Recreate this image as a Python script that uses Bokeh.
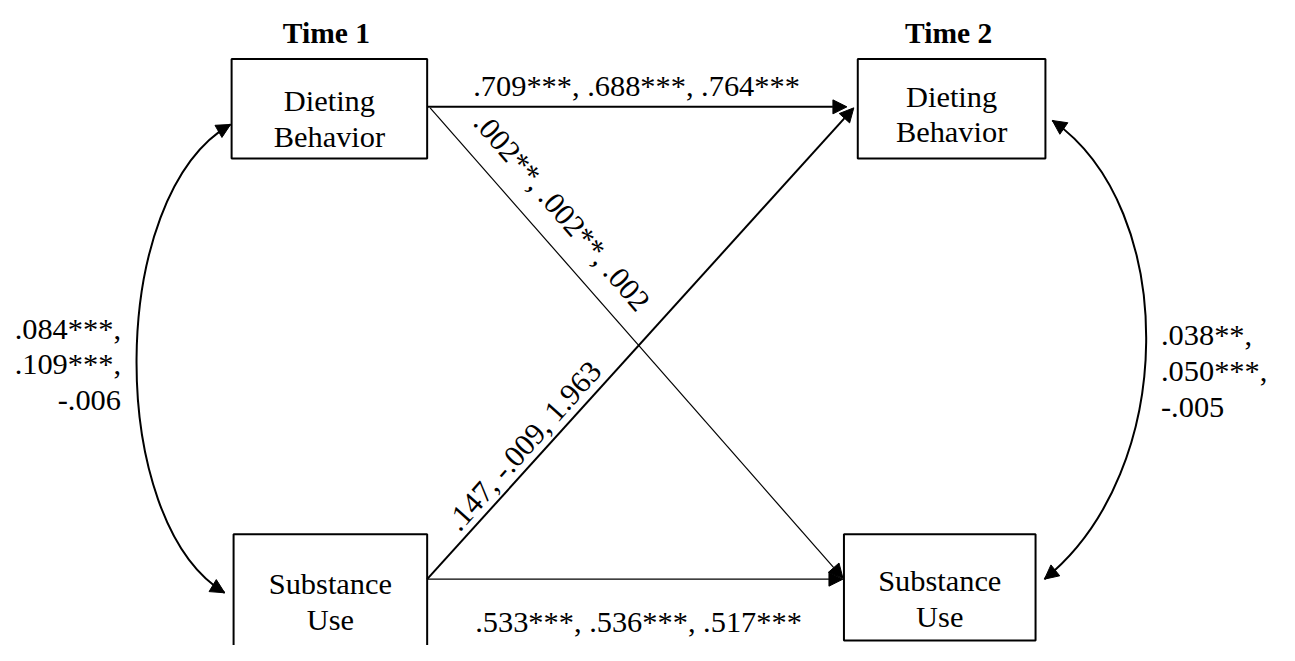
import numpy as np
from bokeh.plotting import figure
from bokeh.models import Range1d, Arrow, NormalHead
from bokeh.core.properties import value
from bokeh.embed import file_html
from bokeh.resources import INLINE

# ---------------- data ----------------
time_labels = ["Time 1", "Time 2"]
construct_lines = [["Dieting", "Behavior"], ["Substance", "Use"]]
stab_dieting = [".709***", ".688***", ".764***"]
stab_substance = [".533***", ".536***", ".517***"]
cross_d_to_s = [".002**", ".002**", ".002"]
cross_s_to_d = [".147", "-.009", "1.963"]
cov_t1 = [".084***", ".109***", "-.006"]
cov_t2 = [".038**", ".050***", "-.005"]

# ---------------- layout (page pixel coordinates of a 1295x661 page) ----------------
FONT = value("Liberation Serif")
FS = value("30.4px")
FS_TITLE = value("29.5px")

boxes = {  # left, right, top, bottom
    "D1": (234, 432, 60, 162),
    "D2": (868, 1058, 60, 162),
    "S1": (236, 432, 547, 720),
    "S2": (854, 1048, 547, 656),
}
box_text = {  # centre x, baseline of line 1, baseline of line 2, construct index
    "D1": (333, 103, 140, 0),
    "D2": (963, 99, 135, 0),
    "S1": (334, 598, 635, 1),
    "S2": (951, 595, 632, 1),
}

p = figure(width=1279, height=645, x_range=Range1d(0, 1295), y_range=Range1d(661, 0),
           output_backend="svg", toolbar_location=None, min_border=0,
           x_axis_type=None, y_axis_type=None)
p.grid.visible = False
p.outline_line_color = None
p.background_fill_color = "white"
p.border_fill_color = "white"

# boxes
keys = list(boxes.keys())
p.quad(left=[boxes[k][0] for k in keys], right=[boxes[k][1] for k in keys],
       top=[boxes[k][2] for k in keys], bottom=[boxes[k][3] for k in keys],
       fill_color=None, line_color="black", line_width=2)

# box texts
bx, by, bt = [], [], []
for k in keys:
    cx, b1, b2, ci = box_text[k]
    bx += [cx, cx]
    by += [b1, b2]
    bt += construct_lines[ci]
p.text(x=bx, y=by, text=bt, text_font=FONT, text_font_size=FS, text_align="center",
       text_baseline="alphabetic", text_color="black")

# titles
p.text(x=[330, 960], y=[33, 33], text=time_labels, text_font=FONT, text_font_size=FS_TITLE,
       text_font_style="bold", text_align="center", text_baseline="alphabetic", text_color="black")

# straight paths
def head():
    return NormalHead(size=14, fill_color="black", line_color="black", line_width=1)

paths = [  # start, end, width
    ((432, 109), (857, 109), 2.0),
    ((435, 110), (853, 592), 1.2),
    ((432, 593), (864, 110), 2.0),
    ((432, 593), (853, 593), 1.4),
]
for (x0, y0), (x1, y1), w in paths:
    p.add_layout(Arrow(end=head(), x_start=x0, y_start=y0, x_end=x1, y_end=y1,
                       line_color="black", line_width=w))

# curved covariance arrows (cubic bezier, heads at both ends)
curves = [
    ((233, 127), (107, 200), (107, 534), (227, 607)),
    ((1065, 123), (1193, 213), (1193, 482), (1057, 593)),
]
for P0, P1, P2, P3 in curves:
    p.bezier(x0=[P0[0]], y0=[P0[1]], x1=[P3[0]], y1=[P3[1]],
             cx0=[P1[0]], cy0=[P1[1]], cx1=[P2[0]], cy1=[P2[1]],
             line_color="black", line_width=2)
    for tip, ctrl in ((P0, P1), (P3, P2)):
        d = np.array(ctrl, float) - np.array(tip, float)
        d /= np.linalg.norm(d)
        s = np.array(tip, float) + d * 3
        p.add_layout(Arrow(end=head(), x_start=s[0], y_start=s[1], x_end=tip[0], y_end=tip[1],
                           line_alpha=0, line_width=0))

# horizontal path labels
p.text(x=[644, 646], y=[88, 637], text=[", ".join(stab_dieting), ", ".join(stab_substance)],
       text_font=FONT, text_font_size=FS, text_align="center", text_baseline="alphabetic",
       text_color="black")

# diagonal path labels
def along(p0, p1, dist, perp_sign, perp):
    a = np.array(p0, float); b = np.array(p1, float)
    u = (b - a) / np.linalg.norm(b - a)
    n = np.array([u[1], -u[0]]) * perp_sign
    pt = a + u * dist + n * perp
    ang = -np.arctan2(b[1] - a[1], b[0] - a[0])
    return pt, ang

pt1, a1 = along((435, 110), (853, 592), 168, 1, 31)
pt2, a2 = along((432, 593), (864, 110), 167, 1, 18)
p.text(x=[pt1[0], pt2[0]], y=[pt1[1], pt2[1]],
       text=[", ".join(cross_d_to_s), ", ".join(cross_s_to_d)],
       angle=[a1, a2], text_font=FONT, text_font_size=FS, text_align="center",
       text_baseline="alphabetic", text_color="black")

# covariance labels
t1 = [v + ("," if i < len(cov_t1) - 1 else "") for i, v in enumerate(cov_t1)]
t2 = [v + ("," if i < len(cov_t2) - 1 else "") for i, v in enumerate(cov_t2)]
p.text(x=[122] * 3, y=[337, 373, 410], text=t1, text_font=FONT, text_font_size=FS,
       text_align="right", text_baseline="alphabetic", text_color="black")
p.text(x=[1175] * 3, y=[343, 380, 417], text=t2, text_font=FONT, text_font_size=FS,
       text_align="left", text_baseline="alphabetic", text_color="black")

open("out.html", "w").write(file_html(p, INLINE))
